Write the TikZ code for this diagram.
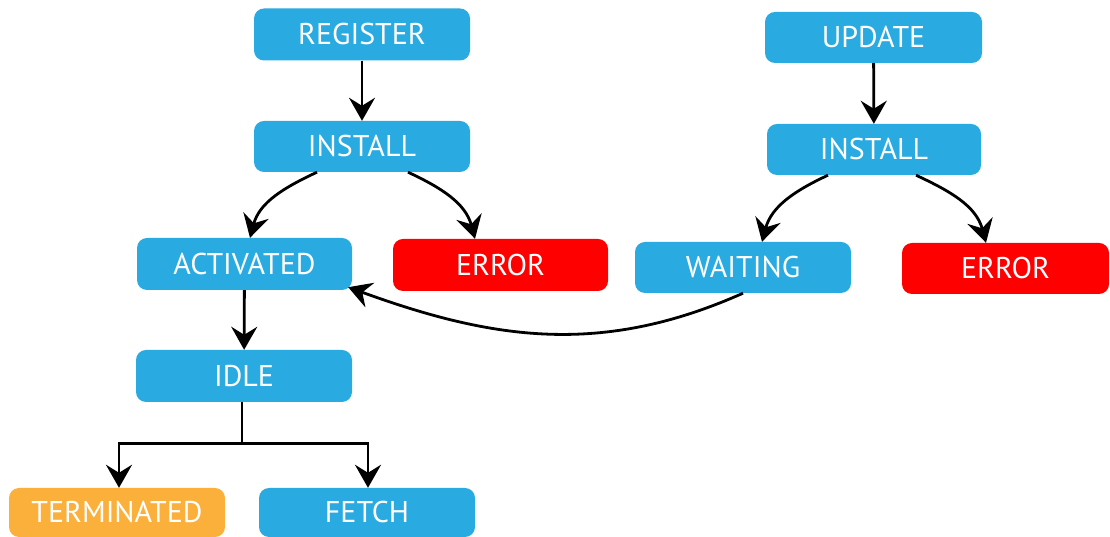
\documentclass[tikz,border=0pt]{standalone}
\usepackage{fontspec}
\setmainfont{PT Sans}
\usetikzlibrary{arrows.meta}

\definecolor{stateblue}{HTML}{29ABE2}
\definecolor{statered}{HTML}{FF0000}
\definecolor{stateorange}{HTML}{FBB03B}

\tikzset{
  state/.style={fill=stateblue, rounded corners=10pt, inner sep=0pt,
    minimum width=216pt, minimum height=52pt, text=white,
    font=\fontsize{30}{32}\selectfont, text height=21pt, text depth=0pt},
  errstate/.style={state, fill=statered},
  endstate/.style={state, fill=stateorange},
  flow/.style={line width=2.8pt, -{Stealth[length=23pt, width=26pt, inset=8pt]}}
}

\begin{document}
\begin{tikzpicture}[x=1pt, y=1pt]
  \useasboundingbox (0,0) rectangle (1110,537);
  \clip (0,0) rectangle (1110,537);

  % left lifecycle
  \node[state] (register)  at (362,502.5) {REGISTER};
  \node[state, minimum height=51pt] (install1) at (362,390.5) {INSTALL};
  \node[state, minimum width=215pt] (activated) at (244.5,273) {ACTIVATED};
  \node[errstate, minimum width=215pt] (error1) at (500.5,272) {ERROR};
  \node[state] (idle) at (244,161) {IDLE};
  \node[endstate, minimum height=49pt] (terminated) at (117,24.5) {TERMINATED};
  \node[state, minimum height=49pt] (fetch) at (367,24.5) {FETCH};

  % update lifecycle
  \node[state, minimum width=217pt, minimum height=51pt] (update) at (873.5,499.5) {UPDATE};
  \node[state, minimum width=214pt, minimum height=51pt] (install2) at (874,387.5) {INSTALL};
  \node[state, minimum height=51pt] (waiting) at (743,269.5) {WAITING};
  \node[errstate, minimum width=207pt, minimum height=51pt] (error2) at (1005.5,268.5) {ERROR};

  % connectors
  \draw[flow] (register) -- (install1);
  \draw[flow] ([xshift=-45pt]install1.south) to[out=205, in=75] ([xshift=5.5pt]activated.north);
  \draw[flow] ([xshift=46pt]install1.south) to[out=-25, in=105] ([xshift=-25.5pt]error1.north);
  \draw[flow] (activated) -- (idle);
  \draw[line width=2.8pt] ([xshift=-2pt]idle.south) -- ++(0,-41) coordinate (split);
  \draw[flow] (split) -| ([xshift=2pt]terminated.north);
  \draw[flow] (split) -| ([xshift=1pt]fetch.north);

  \draw[flow] (update) -- (install2);
  \draw[flow] ([xshift=-46pt]install2.south) to[out=205, in=75] ([xshift=19pt]waiting.north);
  \draw[flow] ([xshift=42pt]install2.south) to[out=-25, in=105] ([xshift=-19.5pt]error2.north);
  \draw[flow] (waiting.south) to[out=204, in=-20] ([xshift=-4pt, yshift=3pt]activated.south east);
\end{tikzpicture}
\end{document}
